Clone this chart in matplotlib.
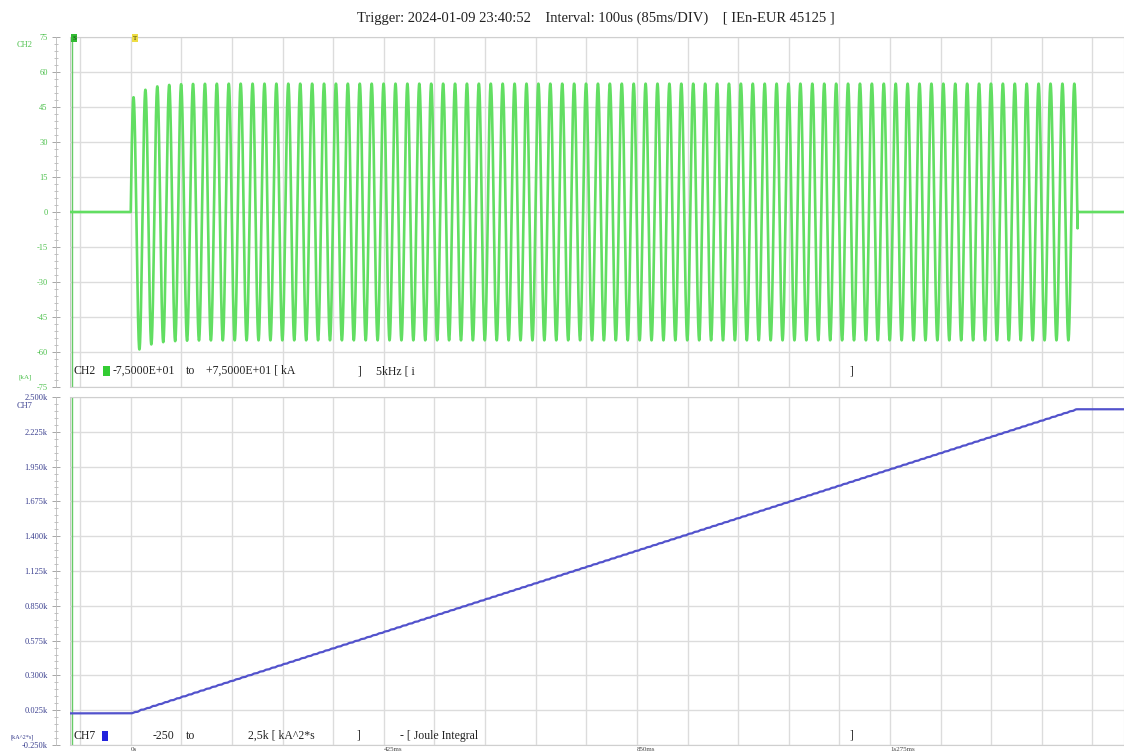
import numpy as np
import matplotlib
matplotlib.use("Agg")
import matplotlib.pyplot as plt
from matplotlib.patches import Rectangle
from matplotlib.ticker import MultipleLocator, AutoMinorLocator

plt.rcParams["font.family"] = ["Liberation Serif", "DejaVu Serif"]

# acquisition settings
SAMPLE_INTERVAL_MS = 0.1          # 100us
DIV_MS = 85.0
VIEW_MS = (-102.0, 1668.0)
CURSOR_S_MS = -99.0
TIME_LABELS = ["0s", "425ms", "850ms", "1s275ms"]
TIME_LABEL_POS_MS = [0, 425, 850, 1275]

# CH2: test current [kA]
CH2_FREQ_HZ = 50.0
CH2_PEAK_KA = 55.0
CH2_DC_START_KA = 7.0       # initial asymmetry offset
CH2_DC_TAU_MS = 25.0
CH2_ON_MS = 0.0
CH2_OFF_MS = 1590.0
CH2_RANGE = (-75, 75)
CH2_TICKS = [-75, -60, -45, -30, -15, 0, 15, 30, 45, 60, 75]

# CH7: Joule integral [kA^2*s]
CH7_RANGE = (-250, 2500)
CH7_TICKS = [-250, 25, 300, 575, 850, 1125, 1400, 1675, 1950, 2225, 2500]

GREEN = "#62de62"
GREEN_TXT = "#4cc04c"
BLUE = "#5252cc"
NAVY = "#3a3f8f"
GRID = "#dcdcdc"

t = np.arange(VIEW_MS[0], VIEW_MS[1], SAMPLE_INTERVAL_MS)
on = (t >= CH2_ON_MS) & (t <= CH2_OFF_MS)
tt = t - CH2_ON_MS
phi = np.arcsin(CH2_DC_START_KA / CH2_PEAK_KA)
cur = CH2_PEAK_KA * np.sin(2 * np.pi * CH2_FREQ_HZ * tt / 1000.0 + phi) \
    - CH2_DC_START_KA * np.exp(-tt / CH2_DC_TAU_MS)
cur = np.where(on, cur, 0.0)

# I^2t integral from the current trace
joule = np.cumsum(cur ** 2) * SAMPLE_INTERVAL_MS / 1000.0

W, H = 1124, 755
fig = plt.figure(figsize=(W / 100, H / 100), dpi=100)


def fx(px):
    return px / W


def fy(py):
    return 1 - py / H


ax1 = fig.add_axes([fx(70), fy(387), fx(W - 70), fy(37) - fy(387)])
ax2 = fig.add_axes([fx(70), fy(745), fx(W - 70), fy(397) - fy(745)])

ax1.plot(t, cur, color=GREEN, lw=1.9, zorder=3)
ax2.plot(t, joule, color=BLUE, lw=1.6, zorder=3)

for ax, rng, ticks, col, fmt in (
    (ax1, CH2_RANGE, CH2_TICKS, GREEN_TXT, lambda v: f"{v:d}"),
    (ax2, CH7_RANGE, CH7_TICKS, NAVY, lambda v: f"{v / 1000:.3f}k"),
):
    ax.set_xlim(*VIEW_MS)
    ax.set_ylim(*rng)
    ax.set_yticks(ticks)
    ax.set_yticklabels([fmt(v) for v in ticks])
    ax.yaxis.set_minor_locator(AutoMinorLocator(5))
    ax.xaxis.set_major_locator(MultipleLocator(DIV_MS))
    ax.set_xticklabels([])
    ax.tick_params(axis="x", length=0)
    ax.tick_params(axis="y", which="major", direction="inout", length=6,
                   width=0.6, color="#999999", pad=3, labelsize=6,
                   labelcolor=col)
    ax.tick_params(axis="y", which="minor", direction="inout", length=3,
                   width=0.5, color="#aaaaaa")
    ax.grid(True, color=GRID, lw=1.0, zorder=0)
    ax.spines["left"].set_position(("outward", 10))
    ax.spines["left"].set_color("#bbbbbb")
    ax.spines["left"].set_linewidth(0.6)
    for side in ("top", "bottom", "right"):
        ax.spines[side].set_color("#cfcfcf")
    ax.axvline(VIEW_MS[0], color="#c8c8c8", lw=1.0, zorder=1)
    ax.axvline(CURSOR_S_MS, color="#66cc66", lw=1.0, zorder=2)

# time labels along the bottom
for lab, pos in zip(TIME_LABELS, TIME_LABEL_POS_MS):
    ax2.text(pos, -0.012, lab, transform=ax2.get_xaxis_transform(),
             ha="left", va="center", fontsize=5, color="#444444")

fig.text(fx(596), fy(18), "Trigger: 2024-01-09 23:40:52    Interval: 100us (85ms/DIV)    [ IEn-EUR 45125 ]",
         ha="center", va="center", fontsize=10.5, color="#222222")

# channel names and units
fig.text(fx(25), fy(45), "CH2", ha="center", va="center", fontsize=6, color=GREEN_TXT)
fig.text(fx(25), fy(377), "[kA]", ha="center", va="center", fontsize=5, color=GREEN_TXT)
fig.text(fx(25), fy(406), "CH7", ha="center", va="center", fontsize=6, color=NAVY)
fig.text(fx(22), fy(737), "[kA^2*s]", ha="center", va="center", fontsize=4.5, color=NAVY)

# cursor flags
fig.text(fx(74), fy(38), "S", ha="center", va="center", fontsize=5, color="#114411",
         bbox=dict(boxstyle="square,pad=0.15", fc="#33bb33", ec="none"))
fig.text(fx(135), fy(38), "T", ha="center", va="center", fontsize=5, color="#333300",
         bbox=dict(boxstyle="square,pad=0.15", fc="#eedd44", ec="none"))

# channel info rows
info_kw = dict(va="center", fontsize=8.5, color="#222222")
row2 = [(73, "CH2"), (113, "-7,5000E+01"), (186, "to"), (206, "+7,5000E+01 [ kA"),
        (358, "]"), (376, "5kHz [ i"), (850, "]")]
row7 = [(73, "CH7"), (153, "-250"), (186, "to"), (248, "2,5k [ kA^2*s"),
        (357, "]"), (400, "- [ Joule Integral"), (850, "]")]
for px, s in row2:
    fig.text(fx(px), fy(371), s, **info_kw)
for px, s in row7:
    fig.text(fx(px), fy(736), s, **info_kw)
fig.patches.append(Rectangle((fx(103), fy(376)), fx(7), fy(366) - fy(376),
                             transform=fig.transFigure, fc="#33cc33", ec="none"))
fig.patches.append(Rectangle((fx(102), fy(741)), fx(6), fy(731) - fy(741),
                             transform=fig.transFigure, fc="#2222dd", ec="none"))

fig.savefig("out.png", dpi=100)
plt.close(fig)
